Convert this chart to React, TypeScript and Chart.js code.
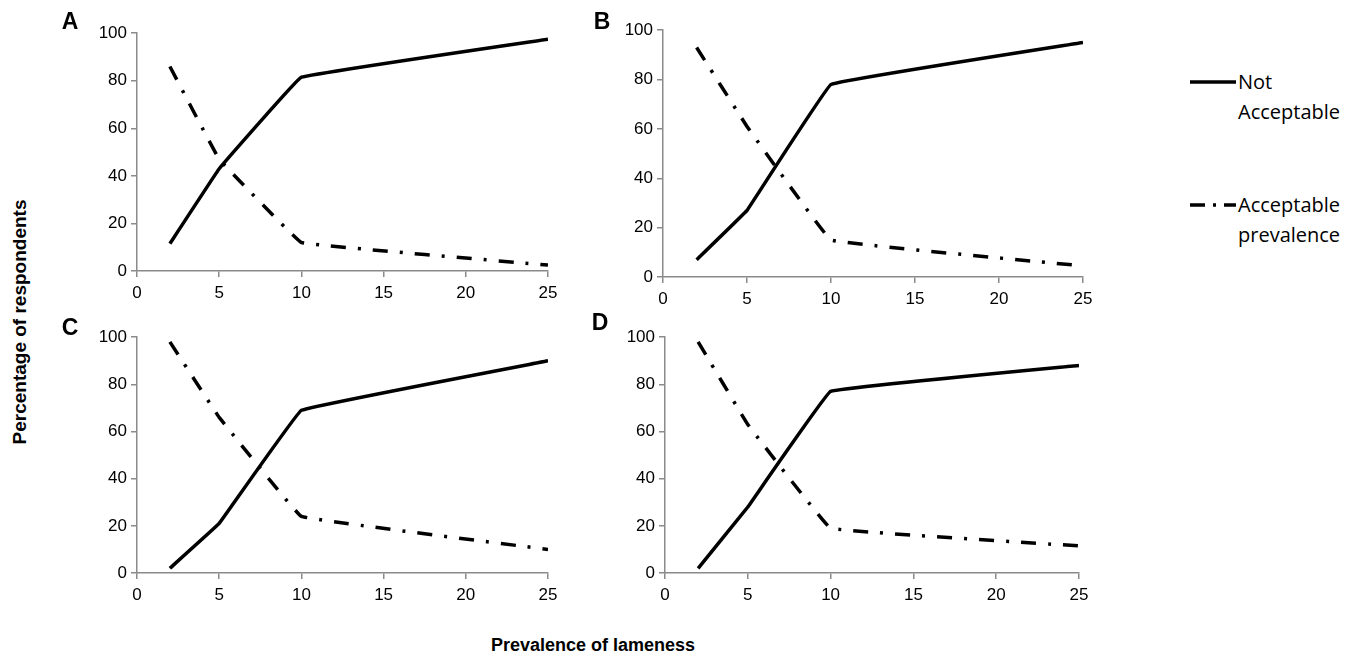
import React, { useEffect, useRef } from "react";
import { Chart, registerables } from "chart.js";
Chart.register(...registerables);

// ---- data ----
const prevalence = [2, 5, 10, 25];
const notAcceptableA = [11.5, 43, 81.5, 97.5];
const acceptableA = [86, 47, 12, 2.5];
const notAcceptableB = [7, 27, 78, 95];
const acceptableB = [93, 61, 15, 4.5];
const notAcceptableC = [2, 21, 69, 90];
const acceptableC = [98, 66, 24, 10];
const notAcceptableD = [2, 28, 77, 88];
const acceptableD = [98, 63, 19, 11.5];
const panelLetters = ["A", "B", "C", "D"];
const legendLabels = ["Not Acceptable", "Acceptable prevalence"];

const DASH_DOT = [15, 12, 3, 12];
const AXIS_GREY = "#8a8a8a";
const TICK_FONT = "'Liberation Sans', Arial, sans-serif";

type Area = { l: number; t: number; r: number; b: number };

const PAD_L = 60;
const PAD_T = 14;
const PAD_R = 25;
const PAD_B = 40;

function Panel({ area, notAcc, acc }: { area: Area; notAcc: number[]; acc: number[] }) {
  const ref = useRef<HTMLCanvasElement | null>(null);
  const w = area.r - area.l + PAD_L + PAD_R;
  const h = area.b - area.t + PAD_T + PAD_B;
  useEffect(() => {
    if (!ref.current) return;
    const chart = new Chart(ref.current, {
      type: "line",
      data: {
        datasets: [
          {
            label: legendLabels[0],
            data: prevalence.map((x, i) => ({ x, y: notAcc[i] })),
            borderColor: "#000",
            borderWidth: 3.5,
            pointRadius: 0,
            tension: 0.04,
            fill: false,
          },
          {
            label: legendLabels[1],
            data: prevalence.map((x, i) => ({ x, y: acc[i] })),
            borderColor: "#000",
            borderWidth: 3.5,
            borderDash: DASH_DOT,
            pointRadius: 0,
            tension: 0.04,
            fill: false,
          },
        ],
      },
      options: {
        responsive: false,
        animation: false,
        devicePixelRatio: 1,
        layout: { autoPadding: false, padding: { left: 0, top: PAD_T, right: PAD_R, bottom: 0 } },
        plugins: { legend: { display: false }, tooltip: { enabled: false } },
        scales: {
          x: {
            type: "linear",
            min: 0,
            max: 25,
            afterFit: (s: any) => {
              s.height = PAD_B;
            },
            ticks: {
              stepSize: 5,
              color: "#000",
              padding: 6,
              maxRotation: 0,
              font: { family: TICK_FONT, size: 17 },
            },
            grid: { display: true, drawOnChartArea: false, drawTicks: true, tickLength: 6, color: AXIS_GREY, lineWidth: 1.5 },
            border: { display: true, color: AXIS_GREY, width: 1.5 },
          },
          y: {
            type: "linear",
            min: 0,
            max: 100,
            afterFit: (s: any) => {
              s.width = PAD_L;
            },
            ticks: {
              stepSize: 20,
              color: "#000",
              padding: 4,
              font: { family: TICK_FONT, size: 17 },
            },
            grid: { display: true, drawOnChartArea: false, drawTicks: true, tickLength: 6, color: AXIS_GREY, lineWidth: 1.5 },
            border: { display: true, color: AXIS_GREY, width: 1.5 },
          },
        },
      },
    });
    return () => chart.destroy();
  }, []);
  return (
    <canvas
      ref={ref}
      width={w}
      height={h}
      style={{ position: "absolute", left: area.l - PAD_L, top: area.t - PAD_T, width: w, height: h }}
    />
  );
}

const areas: Area[] = [
  { l: 137, t: 33, r: 548, b: 271 },
  { l: 663, t: 30, r: 1083, b: 277 },
  { l: 137, t: 337, r: 548, b: 573 },
  { l: 665, t: 337, r: 1079, b: 573 },
];
const letterPos = [
  { x: 70, y: 21 },
  { x: 602, y: 21 },
  { x: 70, y: 327 },
  { x: 600, y: 322 },
];
const series = [
  [notAcceptableA, acceptableA],
  [notAcceptableB, acceptableB],
  [notAcceptableC, acceptableC],
  [notAcceptableD, acceptableD],
];

export default function App() {
  const boldFont = "'Liberation Sans', Arial, sans-serif";
  const legendFont = "'Open Sans', 'Noto Sans', sans-serif";
  return (
    <div style={{ position: "absolute", left: 0, top: 0, width: 1368, height: 659, background: "#fff", overflow: "hidden" }}>
      {areas.map((a, i) => (
        <Panel key={i} area={a} notAcc={series[i][0]} acc={series[i][1]} />
      ))}
      {panelLetters.map((L, i) => (
        <div
          key={L}
          style={{
            position: "absolute",
            left: letterPos[i].x,
            top: letterPos[i].y,
            transform: "translate(-50%, -50%)",
            fontFamily: boldFont,
            fontWeight: "bold",
            fontSize: 23,
            lineHeight: 1,
          }}
        >
          {L}
        </div>
      ))}
      <div
        style={{
          position: "absolute",
          left: 20,
          top: 322,
          transform: "translate(-50%, -50%) rotate(-90deg)",
          whiteSpace: "nowrap",
          fontFamily: boldFont,
          fontWeight: "bold",
          fontSize: 19,
        }}
      >
        Percentage of respondents
      </div>
      <div
        style={{
          position: "absolute",
          left: 593,
          top: 645,
          transform: "translate(-50%, -50%)",
          whiteSpace: "nowrap",
          fontFamily: boldFont,
          fontWeight: "bold",
          fontSize: 18,
        }}
      >
        Prevalence of lameness
      </div>
      <svg style={{ position: "absolute", left: 1188, top: 60, width: 50, height: 170 }} width={50} height={170}>
        <line x1={2} y1={22} x2={48} y2={22} stroke="#000" strokeWidth={3.5} />
        <line x1={2} y1={145} x2={48} y2={145} stroke="#000" strokeWidth={3.5} strokeDasharray="15 8 3 8" />
      </svg>
      <div
        style={{
          position: "absolute",
          left: 1238,
          top: 67,
          fontFamily: legendFont,
          fontSize: 20,
          lineHeight: "30px",
          color: "#000",
        }}
      >
        Not
        <br />
        Acceptable
      </div>
      <div
        style={{
          position: "absolute",
          left: 1238,
          top: 190,
          fontFamily: legendFont,
          fontSize: 20,
          lineHeight: "30px",
          color: "#000",
        }}
      >
        Acceptable
        <br />
        prevalence
      </div>
    </div>
  );
}
